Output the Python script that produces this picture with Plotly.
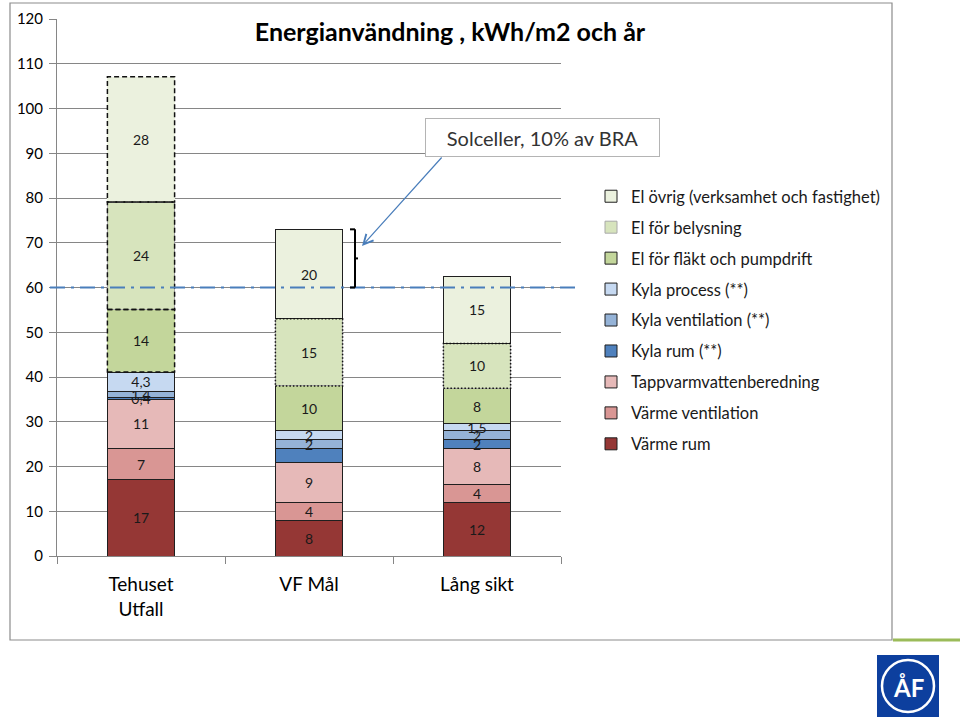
import numpy as np
import plotly.graph_objects as go

# ---------------- data ----------------
categories = ["Tehuset Utfall", "VF Mål", "Lång sikt"]
tick_labels = ["Tehuset<br>Utfall", "VF Mål", "Lång sikt"]

series_names = [
    "Värme rum",
    "Värme ventilation",
    "Tappvarmvattenberedning",
    "Kyla rum (**)",
    "Kyla ventilation (**)",
    "Kyla process (**)",
    "El för fläkt och pumpdrift",
    "El för belysning",
    "El övrig (verksamhet och fastighet)",
]
varme_rum = [17, 8, 12]
varme_ventilation = [7, 4, 4]
tappvarmvatten = [11, 9, 8]
kyla_rum = [0.4, 3, 2]
kyla_ventilation = [1.4, 2, 2]
kyla_process = [4.3, 2, 1.5]
el_flakt = [14, 10, 8]
el_belysning = [24, 15, 10]
el_ovrig = [28, 20, 15]
series_values = [varme_rum, varme_ventilation, tappvarmvatten, kyla_rum,
                 kyla_ventilation, kyla_process, el_flakt, el_belysning, el_ovrig]
hidden_labels = {("Kyla rum (**)", "VF Mål")}

solar_target = 60
y_ticks = list(range(0, 121, 10))
title_text = "Energianvändning , kWh/m2 och år"
callout_text = "Solceller, 10% av BRA"

# ---------------- style ----------------
series_colors = ["#953735", "#d99694", "#e6b9b8", "#4f81bd", "#95b3d7",
                 "#c6d9f1", "#c3d69b", "#d7e4bd", "#ebf1de"]
FONT = "Lato"
BORDER = "#1f1f1f"
W, H = 960, 720
# plot area in screen pixels: x 57..561, y 19..556
ML = 57
MT = 19
MR = W - 561
MB = H - 556
PW, PH = W - ML - MR, H - MT - MB


def fx(px):
    return (px - ML) / PW


def fy(py):
    return (H - MB - py) / PH


def fmt(v):
    return ("%g" % v).replace(".", ",")


plot_order = [1, 2, 0]  # input order only (display order fixed by categoryarray)
dashed_first = {"El för fläkt och pumpdrift", "El övrig (verksamhet och fastighet)", "El för belysning"}

fig = go.Figure()
n = len(series_names)
for s, name in enumerate(series_names):
    vals = series_values[s]
    texts, widths = [], []
    for i, c in enumerate(categories):
        texts.append("" if (name, c) in hidden_labels else fmt(vals[i]))
        if name == "El för belysning":
            widths.append(1)
        elif name in dashed_first and i == 0:
            widths.append(0)
        else:
            widths.append(1)
    lc = "#a8a8a8" if name == "El för belysning" else BORDER
    fig.add_trace(go.Bar(
        x=[categories[i] for i in plot_order],
        y=[vals[i] for i in plot_order],
        text=[texts[i] for i in plot_order],
        name=name, legendgroup=name, legendrank=n - s, width=0.4,
        marker=dict(color=series_colors[s], line=dict(color=lc, width=[widths[i] for i in plot_order])),
        textposition="inside", insidetextanchor="middle", textangle=0,
        textfont=dict(family=FONT, size=14, color="#1a1a1a"),
        hoverinfo="skip",
    ))

shapes = []
# custom borders (dashed for bar 1 El segments, dotted for belysning)
vals_arr = np.array(series_values, dtype=float)
bases = np.vstack([np.zeros(len(categories)), np.cumsum(vals_arr, axis=0)[:-1]])
for s, name in enumerate(series_names):
    for i in range(len(categories)):
        dash = None
        if name in dashed_first and i == 0:
            dash = "5px,3px"
        elif name == "El för belysning":
            dash = "1.5px,2px"
        if dash:
            shapes.append(dict(type="rect", xref="x", yref="y", x0=i - 0.2, x1=i + 0.2,
                               y0=bases[s, i], y1=bases[s, i] + vals_arr[s, i],
                               line=dict(color="#111111", width=1.5, dash=dash)))

# target line (solar)
shapes.append(dict(type="line", xref="paper", yref="y", x0=fx(50), x1=fx(580),
                   y0=solar_target, y1=solar_target,
                   line=dict(color="#4a7ebb", width=2.2, dash="15px,6px,3px,6px")))

# bracket next to VF Mål
vf_total = vals_arr[:, 1].sum()
bx = 1 + (355 - 309) / 168
bl = 1 + (350 - 309) / 168
bn = 1 + (358 - 309) / 168
blk = dict(color="#000000", width=2)
shapes += [
    dict(type="line", xref="x", yref="y", x0=bx, x1=bx, y0=solar_target, y1=vf_total, line=blk),
    dict(type="line", xref="x", yref="y", x0=bl, x1=bx, y0=vf_total, y1=vf_total, line=blk),
    dict(type="line", xref="x", yref="y", x0=bl, x1=bx, y0=solar_target, y1=solar_target, line=blk),
    dict(type="line", xref="x", yref="y", x0=bx, x1=bn, y0=(vf_total + solar_target) / 2,
         y1=(vf_total + solar_target) / 2, line=blk),
]

# outer chart border and decorations
shapes.append(dict(type="rect", xref="paper", yref="paper", x0=fx(10), x1=fx(892), y0=fy(640), y1=fy(3),
                   line=dict(color="#8c8c8c", width=1.2)))
shapes.append(dict(type="line", xref="paper", yref="paper", x0=fx(893), x1=fx(960), y0=fy(640), y1=fy(640),
                   line=dict(color="#9bbb59", width=3)))
# logo
shapes.append(dict(type="rect", xref="paper", yref="paper", x0=fx(877), x1=fx(939), y0=fy(717), y1=fy(655),
                   fillcolor="#0d3f9e", line=dict(width=0)))
shapes.append(dict(type="circle", xref="paper", yref="paper", x0=fx(882), x1=fx(934), y0=fy(712), y1=fy(660),
                   line=dict(color="white", width=2.5)))

annotations = [
    dict(xref="paper", yref="paper", x=fx(542), y=fy(137), xanchor="center", yanchor="middle",
         text=callout_text, showarrow=False,
         font=dict(family=FONT, size=20, color="#333333"), bgcolor="white",
         bordercolor="#b4b4b4", borderwidth=1, width=231, height=35, borderpad=1),
    dict(xref="x", yref="y", x=1 + (362 - 309) / 168, y=(556 - 246) / (537 / 120), text="",
         showarrow=True, ax=443 - 362, ay=156 - 246, arrowcolor="#4a7ebb", arrowwidth=1.2,
         arrowhead=5, arrowsize=1.6),
    dict(xref="paper", yref="paper", x=fx(908), y=fy(687), xanchor="center", yanchor="middle",
         text="<b>ÅF</b>", showarrow=False,
         font=dict(family=FONT, size=24, color="white")),
]

fig.update_layout(
    width=W, height=H,
    margin=dict(l=ML, r=MR, t=MT, b=MB, autoexpand=False),
    paper_bgcolor="white", plot_bgcolor="white",
    barmode="stack",
    font=dict(family=FONT, color="#000000"),
    title=dict(text="<b>" + title_text + "</b>", x=450 / W, xref="container", xanchor="center",
               y=1 - 32 / H, yref="container", yanchor="middle",
               font=dict(family=FONT, size=25, color="#000000")),
    xaxis=dict(categoryorder="array", categoryarray=categories, tickvals=categories, ticktext=tick_labels,
               showline=True, linecolor="#868686", linewidth=1, ticks="outside", ticklen=7,
               tickcolor="#868686", tickson="boundaries", showgrid=False, ticklabelstandoff=11,
               automargin=False,
               tickfont=dict(family=FONT, size=19, color="#000000")),
    yaxis=dict(range=[0, 120], tickvals=y_ticks, showgrid=True, gridcolor="#868686", gridwidth=1,
               showline=True, linecolor="#868686", linewidth=1, ticks="outside", ticklen=7,
               tickcolor="#868686", zeroline=False, ticklabelstandoff=3, automargin=False,
               tickfont=dict(family=FONT, size=15, color="#000000")),
    legend=dict(x=fx(591), y=fy(179), xanchor="left", yanchor="top", traceorder="grouped",
                tracegroupgap=6.5, font=dict(family=FONT, size=16.5, color="#1a1a1a"),
                bgcolor="rgba(0,0,0,0)"),
    uniformtext=dict(minsize=14, mode="show"),
    shapes=shapes,
    annotations=annotations,
    showlegend=True,
)

fig.write_html("out.html", config={"displayModeBar": False},
               post_script="document.body.style.margin='0';")
